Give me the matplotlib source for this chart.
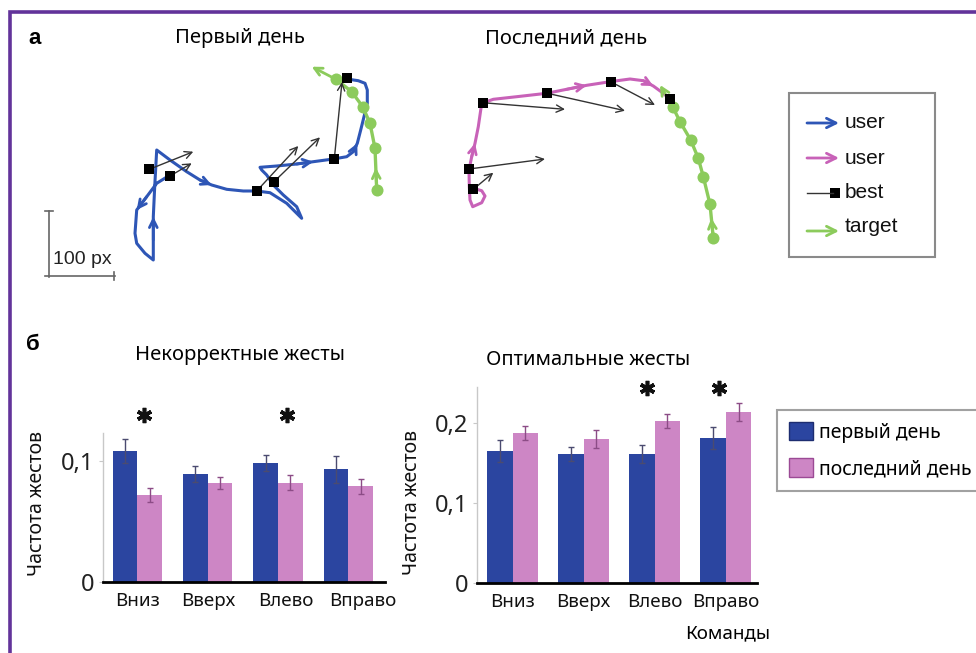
import numpy as np
import matplotlib.pyplot as plt
from matplotlib.patches import Rectangle

plt.rcParams['font.family'] = ['Noto Sans', 'DejaVu Sans']

W, H = 976, 653

# ---- panel a: trajectories in screen pixels (x right, y down) ----
user1_x = [170, 156.7, 146.7, 136.7, 135, 136.7, 145, 153.3, 153.3, 153.3, 154.7, 156.7,
           170, 186.7, 200, 211.7, 226.7, 243.3, 256.7, 270, 286.7, 301.7, 296.7, 283.3,
           273.3, 266.7, 261.7, 260, 276.7, 296.7, 313.3, 333.3, 346.7, 353.3, 357.3,
           360.7, 364, 367.3, 367.3, 365, 358.3, 346.7]
user1_y = [175, 183.3, 196.7, 210, 233.3, 243.3, 253.3, 260, 240, 216.7, 186.7, 150,
           160, 171.7, 180, 185, 189.3, 191, 191, 192.7, 203.3, 218.3, 206.7, 195,
           185, 175, 170, 167.3, 166, 164, 161.7, 159, 156.7, 151.7, 143.3,
           130, 116.7, 103.3, 90, 83.3, 80.7, 79]
user1_heads = [3, 9, 15, 30, 34]

best1_x = [149.3, 170, 256.7, 274, 334.3, 346.7]
best1_y = [169.3, 176, 191, 181.7, 159, 78.3]
best1_to_x = [193.3, 191.7, 298.3, 320, 342, None]
best1_to_y = [151.7, 163.3, 146, 137.3, 82, None]

target1_x = [376.7, 375, 370, 362.7, 351.7, 336]
target1_y = [190, 148.3, 123.3, 106.7, 91.7, 79.3]
target1_tip = (311.7, 66.7)

user2_x = [473.3, 481.7, 485, 481.7, 472.7, 470, 469.3, 469, 471.7, 475, 478.3, 481.7,
           493.3, 516.7, 546.7, 566.7, 586.7, 610, 630, 643.3, 653.3, 663.3, 670]
user2_y = [188.3, 190.7, 196, 202.7, 206.7, 200, 186.7, 170, 156.7, 143.3, 126.7, 103.3,
           99.3, 96.7, 93.3, 89.3, 85.3, 81.7, 79, 80.7, 86, 93.3, 99.3]
user2_heads = [9, 16, 20]

best2_x = [482.7, 547.3, 610.7, 670, 469, 473.3]
best2_y = [102.7, 93.3, 81.7, 99, 169, 189.3]
best2_to_x = [565, 625, 655, None, 545, 493.3]
best2_to_y = [109.3, 110.7, 105, None, 159, 172.7]

target2_x = [713.3, 710, 703.3, 698.3, 690.7, 680, 672.7]
target2_y = [238.3, 204.3, 176.7, 158.3, 140, 121.7, 106.7]
target2_tip = (660, 85)

# ---- panel б: gesture frequencies ----
commands = ['Вниз', 'Вверх', 'Влево', 'Вправо']
wrong_first = [0.108, 0.089, 0.098, 0.093]
wrong_first_err = [0.010, 0.0066, 0.0066, 0.011]
wrong_last = [0.072, 0.082, 0.082, 0.079]
wrong_last_err = [0.006, 0.005, 0.006, 0.006]
opt_first = [0.165, 0.161, 0.161, 0.181]
opt_first_err = [0.014, 0.009, 0.011, 0.014]
opt_last = [0.1875, 0.180, 0.2025, 0.214]
opt_last_err = [0.009, 0.011, 0.009, 0.011]
wrong_stars = [0.09, 2.13]
opt_stars = [1.89, 2.91]

c_blue_tr = '#2e56b6'
c_pink_tr = '#c862b8'
c_green = '#8ccb5c'
c_bar1 = '#2b45a0'
c_bar2 = '#cd86c5'
c_frame = '#62339a'

fig = plt.figure(figsize=(9.76, 6.53), dpi=100)
ax0 = fig.add_axes([0, 0, 1, 1])
ax0.set_xlim(0, W)
ax0.set_ylim(H, 0)
ax0.axis('off')

# frame
ax0.plot([10, 10, W], [H, 12, 12], color=c_frame, lw=2.6, solid_joinstyle='miter', clip_on=False)


def head(ax, x0, y0, x1, y1, color, lw=2, ms=14, shrink=0):
    ax.annotate('', xy=(x1, y1), xytext=(x0, y0),
                arrowprops=dict(arrowstyle='->', color=color, lw=lw, mutation_scale=ms,
                                shrinkA=0, shrinkB=shrink))


def draw_day(ux, uy, heads, ucol, bx, by, btx, bty, tx, ty, tip, tshrink):
    ax0.plot(ux, uy, color=ucol, lw=2.2, solid_joinstyle='round', zorder=2)
    for i in heads:
        head(ax0, ux[i - 1], uy[i - 1], ux[i], uy[i], ucol)
    ax0.plot(tx, ty, color=c_green, lw=2.4, zorder=3)
    ax0.scatter(tx, ty, s=75, color=c_green, zorder=3, linewidths=0)
    head(ax0, tx[-1], ty[-1], tip[0], tip[1], c_green, lw=2)
    head(ax0, tx[0], ty[0], tx[1], ty[1], c_green, lw=2, shrink=tshrink)
    for sx, sy, ex, ey in zip(bx, by, btx, bty):
        if ex is not None:
            head(ax0, sx, sy, ex, ey, '#333333', lw=1, ms=13)
    ax0.scatter(bx, by, marker='s', s=55, color='k', zorder=6, linewidths=0)


draw_day(user1_x, user1_y, user1_heads, c_blue_tr, best1_x, best1_y, best1_to_x, best1_to_y,
         target1_x, target1_y, target1_tip, 14)
draw_day(user2_x, user2_y, user2_heads, c_pink_tr, best2_x, best2_y, best2_to_x, best2_to_y,
         target2_x, target2_y, target2_tip, 10)

# scale bar
sc = '#666666'
ax0.plot([49, 49], [211, 277], color=sc, lw=1.2)
ax0.plot([45, 53], [211, 211], color=sc, lw=1.2)
ax0.plot([45, 115], [276, 276], color=sc, lw=1.2)
ax0.plot([114, 114], [272, 280], color=sc, lw=1.2)
ax0.text(53, 259, '100 px', fontsize=14, family='Liberation Sans', va='center', ha='left', color='#222')

# legend of panel a
ax0.add_patch(Rectangle((789, 93), 146, 164, fill=False, ec='#8a8a8a', lw=1.5))
leg_y = [123, 158, 193, 231]
leg_c = [c_blue_tr, c_pink_tr, None, c_green]
leg_t = ['user', 'user', 'best', 'target']
for yy, cc, tt in zip(leg_y, leg_c, leg_t):
    if cc is None:
        ax0.plot([807, 833], [yy, yy], color='#333333', lw=1)
        ax0.scatter([835], [yy], marker='s', s=45, color='k', linewidths=0)
    else:
        head(ax0, 807, yy, 839, yy, cc, lw=2, ms=17)
    ty_ = yy - 5 if tt == 'target' else yy
    ax0.text(845, ty_, tt, fontsize=15, family='Liberation Sans', va='center', ha='left', color='#111')

# texts
fig.text(35 / W, 1 - 38 / H, 'а', fontsize=16, fontweight='bold', family='Liberation Sans',
         ha='center', va='center')
fig.text(33 / W, 1 - 344 / H, 'б', fontsize=16, fontweight='bold', family='Liberation Sans',
         ha='center', va='center')
fig.text(240 / W, 1 - 38 / H, 'Первый день', fontsize=14.5, ha='center', va='center')
fig.text(566 / W, 1 - 38 / H, 'Последний день', fontsize=14.5, ha='center', va='center')
fig.text(240 / W, 1 - 355 / H, 'Некорректные жесты', fontsize=14.5, ha='center', va='center')
fig.text(588 / W, 1 - 360 / H, 'Оптимальные жесты', fontsize=14.5, ha='center', va='center')
fig.text(728 / W, 1 - 633 / H, 'Команды', fontsize=13.5, ha='center', va='center')

axL = fig.add_axes([103 / W, 1 - 582 / H, 282 / W, 149 / H])
axR = fig.add_axes([477 / W, 1 - 583 / H, 280 / W, 196 / H])

x = np.arange(len(commands))


def bars(ax, v1, e1, v2, e2, w, xlim, ylim, yt, ytl, stars, star_y, lab_xy, lab_shift):
    ax.bar(x - w / 2, v1, w, yerr=e1, color=c_bar1,
           error_kw=dict(ecolor='#4b4b70', elinewidth=1, capsize=2.5, capthick=1))
    ax.bar(x + w / 2, v2, w, yerr=e2, color=c_bar2,
           error_kw=dict(ecolor='#8c4c86', elinewidth=1, capsize=2.5, capthick=1))
    ax.set_xlim(*xlim)
    ax.set_ylim(*ylim)
    ax.set_xticks(x + np.array(lab_shift))
    ax.set_xticklabels(commands)
    ax.set_yticks(yt)
    ax.set_yticklabels(ytl)
    for s in ['top', 'right']:
        ax.spines[s].set_visible(False)
    ax.spines['left'].set_color('#c8c8c8')
    ax.spines['left'].set_linewidth(1)
    ax.spines['bottom'].set_linewidth(2)
    ax.tick_params(axis='y', length=3, color='#c8c8c8', labelsize=17, pad=3, labelcolor='#222')
    ax.tick_params(axis='x', length=0, labelsize=13.5, pad=7, labelcolor='#111')
    ax.patch.set_alpha(0)
    ax.plot(stars, [star_y] * len(stars), linestyle='none', marker=(6, 2, 0), ms=11,
            mew=2.6, color='#111', clip_on=False)
    ax.set_ylabel('Частота жестов', fontsize=14, color='#111')
    ax.yaxis.set_label_coords(*lab_xy)


bars(axL, wrong_first, wrong_first_err, wrong_last, wrong_last_err, 0.35,
     (-0.49, 3.52), (0, 0.123), [0, 0.1], ['0', '0,1'], wrong_stars, 0.138, (-0.20, 0.53),
     [0, 0, 0.11, 0.2])
bars(axR, opt_first, opt_first_err, opt_last, opt_last_err, 0.36,
     (-0.5, 3.44), (0, 0.245), [0, 0.1, 0.2], ['0', '0,1', '0,2'], opt_stars, 0.244, (-0.196, 0.41),
     [0, 0, 0, 0])

handles = [Rectangle((0, 0), 1, 1, fc=c_bar1, ec='#1d2d70', lw=1),
           Rectangle((0, 0), 1, 1, fc=c_bar2, ec='#9b4a95', lw=1)]
leg = axR.legend(handles, ['первый день', 'последний день'], loc='upper left',
                 bbox_to_anchor=(777 / W, 1 - 410 / H), bbox_transform=fig.transFigure,
                 frameon=True, fancybox=False, edgecolor='#8a8a8a', fontsize=14,
                 handlelength=1.25, handleheight=1.1, handletextpad=0.3,
                 borderpad=0.6, labelspacing=0.8, borderaxespad=0)
leg.get_frame().set_linewidth(1.5)

fig.savefig('out.png', dpi=100)
